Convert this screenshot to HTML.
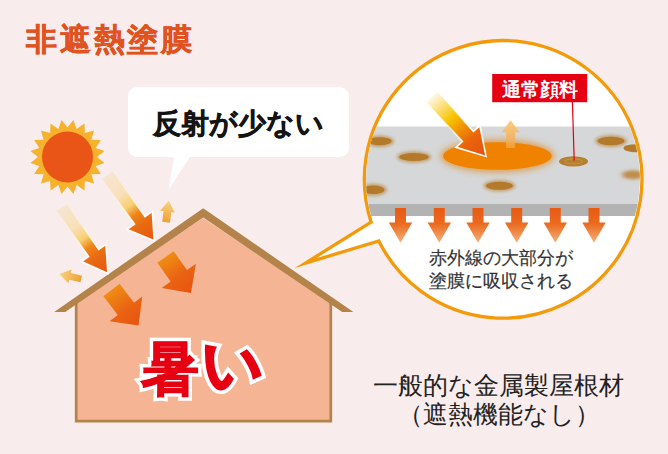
<!DOCTYPE html>
<html><head><meta charset="utf-8">
<style>
html,body{margin:0;padding:0;}
body{width:668px;height:454px;overflow:hidden;background:#f8ecec;position:relative;font-family:"Liberation Sans",sans-serif;}
svg{position:absolute;left:0;top:0;}
.t{position:absolute;white-space:nowrap;line-height:1;}
#title{left:26px;top:24px;font-size:31px;font-weight:bold;color:#e0521f;letter-spacing:2.8px;-webkit-text-stroke:0.5px #e0521f;}
#bub{left:152.5px;top:109.5px;font-size:28px;font-weight:bold;color:#141414;-webkit-text-stroke:0.5px #141414;}
#hot1,#hot2{left:141px;top:339px;font-size:58px;font-weight:bold;letter-spacing:5px;}
#hot1{color:#fff;-webkit-text-stroke:8px #fff;}
#hot2{color:#e60012;-webkit-text-stroke:1.2px #e60012;}
.ii{position:relative;top:-4px;left:-2px;font-size:60px;}
#hot2 .ii{-webkit-text-stroke:2.6px #e60012;}
#hot1 .ii{-webkit-text-stroke:10px #fff;}
#lab{left:502px;top:80.5px;font-size:18.5px;font-weight:bold;color:#fff;}
#ir{left:429px;top:246.5px;font-size:17.5px;color:#333;line-height:23px;-webkit-text-stroke:0.2px #333;}
#bot{left:373px;top:371px;font-size:25px;color:#222;line-height:28.5px;text-align:center;}
</style></head><body>
<svg width="668" height="454" viewBox="0 0 668 454">
<defs>
  <linearGradient id="gBig" x1="0" y1="0" x2="1" y2="0">
    <stop offset="0" stop-color="#f7e5d0"/>
    <stop offset="0.3" stop-color="#f8e0b8"/>
    <stop offset="0.47" stop-color="#f8d070"/>
    <stop offset="0.6" stop-color="#f08418"/>
    <stop offset="0.75" stop-color="#e96a12"/>
    <stop offset="1" stop-color="#e85510"/>
  </linearGradient>
  <linearGradient id="gIn" x1="0" y1="0" x2="1" y2="0">
    <stop offset="0" stop-color="#f08c14"/>
    <stop offset="0.55" stop-color="#ea6212"/>
    <stop offset="1" stop-color="#e85410"/>
  </linearGradient>
  <linearGradient id="gSmall" x1="0" y1="0" x2="1" y2="0">
    <stop offset="0" stop-color="#f0a030"/>
    <stop offset="1" stop-color="#f8d385"/>
  </linearGradient>
  <linearGradient id="gMag" x1="0" y1="0" x2="1" y2="0">
    <stop offset="0" stop-color="#fff8e8"/>
    <stop offset="0.36" stop-color="#f8c400"/>
    <stop offset="0.55" stop-color="#f08e00"/>
    <stop offset="0.72" stop-color="#ea640c"/>
    <stop offset="1" stop-color="#e65010"/>
  </linearGradient>
  <linearGradient id="gUp" x1="0" y1="0" x2="1" y2="0">
    <stop offset="0" stop-color="#f3a448" stop-opacity="0.8"/>
    <stop offset="1" stop-color="#f9cb80"/>
  </linearGradient>
  <linearGradient id="gDown" x1="0" y1="0" x2="0" y2="1">
    <stop offset="0" stop-color="#e85a12"/>
    <stop offset="0.45" stop-color="#ea6a1e"/>
    <stop offset="1" stop-color="#f6b07a"/>
  </linearGradient>
  <linearGradient id="gWh" x1="0" y1="0" x2="1" y2="0">
    <stop offset="0" stop-color="#fff" stop-opacity="0"/>
    <stop offset="0.35" stop-color="#fff" stop-opacity="0.3"/>
    <stop offset="0.65" stop-color="#fff" stop-opacity="1"/>
    <stop offset="1" stop-color="#fff" stop-opacity="1"/>
  </linearGradient>
  <clipPath id="cc"><circle cx="503" cy="179" r="137"/></clipPath>
  <filter id="bl" x="-50%" y="-100%" width="200%" height="300%"><feGaussianBlur stdDeviation="0.6"/></filter>
  <filter id="bl3" x="-50%" y="-100%" width="200%" height="300%"><feGaussianBlur stdDeviation="2.5 1.8"/></filter>
  <filter id="bl2" x="-50%" y="-100%" width="200%" height="300%"><feGaussianBlur stdDeviation="1.8"/></filter>
  <filter id="glow" x="-30%" y="-100%" width="160%" height="300%"><feGaussianBlur stdDeviation="3.2"/></filter>
</defs>

<!-- speech bubble -->
<rect x="128" y="87" width="221" height="70" rx="9" fill="#fff"/>
<polygon points="175.2,150 194.6,150 168.5,190" fill="#fff"/>

<!-- sun -->
<g transform="translate(67.5,157)">
  <polygon fill="#f6b12d" points="5.9,-37.0 9.1,-28.1 17.0,-33.4 17.3,-23.9 26.5,-26.5 23.9,-17.3 33.4,-17.0 28.1,-9.1 37.0,-5.9 29.5,0.0 37.0,5.9 28.1,9.1 33.4,17.0 23.9,17.3 26.5,26.5 17.3,23.9 17.0,33.4 9.1,28.1 5.9,37.0 0.0,29.5 -5.9,37.0 -9.1,28.1 -17.0,33.4 -17.3,23.9 -26.5,26.5 -23.9,17.3 -33.4,17.0 -28.1,9.1 -37.0,5.9 -29.5,0.0 -37.0,-5.9 -28.1,-9.1 -33.4,-17.0 -23.9,-17.3 -26.5,-26.5 -17.3,-23.9 -17.0,-33.4 -9.1,-28.1 -5.9,-37.0 -0.0,-29.5"/>
  <circle r="25.5" fill="#e85516"/>
</g>

<!-- house -->
<polygon points="76,303 203,218 331,303 331,421 76,421" fill="#f5b594"/>
<path d="M76.2,300 V421.2 H330.8 V300" fill="none" stroke="#b3834a" stroke-width="2.7"/>
<polygon points="54.2,312 203.2,208.3 353.4,312 342.2,312 203.2,217.6 65.2,312" fill="#b3834a"/>

<!-- arrows outside -->
<g transform="translate(107.5,175.2) rotate(54.5)"><linearGradient id="gBig_107" gradientUnits="userSpaceOnUse" x1="0" y1="0" x2="80.5" y2="0" href="#gBig"/><linearGradient id="w_gBig_107" gradientUnits="userSpaceOnUse" x1="0" y1="0" x2="80.5" y2="0" href="#gWh"/><polygon points="0.0,-6.5 55.5,-6.5 55.5,-15.5 80.5,0.0 55.5,15.5 55.5,6.5 0.0,6.5" fill="url(#gBig_107)"  stroke="url(#w_gBig_107)" stroke-width="1.6" stroke-linejoin="miter"/></g>
<g transform="translate(61.8,207.5) rotate(55.0)"><linearGradient id="gBig_61" gradientUnits="userSpaceOnUse" x1="0" y1="0" x2="80.5" y2="0" href="#gBig"/><linearGradient id="w_gBig_61" gradientUnits="userSpaceOnUse" x1="0" y1="0" x2="80.5" y2="0" href="#gWh"/><polygon points="0.0,-6.2 55.5,-6.2 55.5,-15.0 80.5,0.0 55.5,15.0 55.5,6.2 0.0,6.2" fill="url(#gBig_61)"  stroke="url(#w_gBig_61)" stroke-width="1.6" stroke-linejoin="miter"/></g>
<g transform="translate(165.5,257.0) rotate(54.7)"><linearGradient id="gIn_165" gradientUnits="userSpaceOnUse" x1="0" y1="0" x2="44" y2="0" href="#gIn"/><polygon points="0.0,-10.0 23.0,-10.0 23.0,-21.0 44.0,0.0 23.0,21.0 23.0,10.0 0.0,10.0" fill="url(#gIn_165)" /></g>
<g transform="translate(111.5,290.0) rotate(52.7)"><linearGradient id="gIn_111" gradientUnits="userSpaceOnUse" x1="0" y1="0" x2="44.7" y2="0" href="#gIn"/><polygon points="0.0,-10.2 23.7,-10.2 23.7,-20.5 44.7,0.0 23.7,20.5 23.7,10.2 0.0,10.2" fill="url(#gIn_111)" /></g>
<g transform="translate(166.1,222.3) rotate(-83.0)"><linearGradient id="gSmall_166" gradientUnits="userSpaceOnUse" x1="0" y1="0" x2="21.8" y2="0" href="#gSmall"/><polygon points="0.0,-3.9 10.8,-3.9 10.8,-7.4 21.8,0.0 10.8,7.4 10.8,3.9 0.0,3.9" fill="url(#gSmall_166)" /></g>
<g transform="translate(81.2,279.0) rotate(193.0)"><linearGradient id="gSmall_81" gradientUnits="userSpaceOnUse" x1="0" y1="0" x2="22.5" y2="0" href="#gSmall"/><polygon points="0.0,-3.4 11.5,-3.4 11.5,-7.0 22.5,0.0 11.5,7.0 11.5,3.4 0.0,3.4" fill="url(#gSmall_81)" /></g>

<!-- magnifier -->
<path d="M371.1,222.1 L305.6,263.0 L378.8,241.0 A138.8 138.8 0 1 0 371.1,222.1 Z" fill="#fff" stroke="#f29a0a" stroke-width="3.3" stroke-linejoin="miter" stroke-miterlimit="20"/>
<g clip-path="url(#cc)">
  <rect x="350" y="126.5" width="320" height="77.5" fill="#d6d7d8"/>
  <rect x="350" y="204" width="320" height="12" fill="#b3b3b3"/>
  <g fill="#b98236" opacity="0.6" filter="url(#bl2)">
    <ellipse cx="379.6" cy="141.2" rx="14.5" ry="6"/>
    <ellipse cx="414" cy="157" rx="17.3" ry="6"/>
    <ellipse cx="373.5" cy="189.8" rx="13.5" ry="6.3"/>
    <ellipse cx="499.4" cy="185.8" rx="16.0" ry="6"/>
    <ellipse cx="611" cy="141" rx="16.0" ry="6.2"/>
  </g>
  <g fill="#b27a2c" filter="url(#bl)">
    <ellipse cx="379.6" cy="141.2" rx="12" ry="4"/>
    <ellipse cx="414" cy="157" rx="14.8" ry="4"/>
    <ellipse cx="373.5" cy="189.8" rx="11" ry="4.3"/>
    <ellipse cx="499.4" cy="185.8" rx="13.5" ry="4"/>
    <ellipse cx="611" cy="141" rx="13.5" ry="4.2"/>
  </g>
  <ellipse cx="636" cy="148.2" rx="12.5" ry="4" fill="#b27a2c" filter="url(#bl)"/>
  <ellipse cx="633" cy="174.8" rx="11" ry="4.5" fill="#b98236" opacity="0.85" filter="url(#bl3)"/>
  <ellipse cx="573.5" cy="161.4" rx="14.5" ry="5.2" fill="#b5802e"/>
  <ellipse cx="573.5" cy="161.4" rx="9" ry="2.5" fill="none" stroke="#c8985a" stroke-width="0.8"/>
  <ellipse cx="497.4" cy="156" rx="57" ry="16.5" fill="#e08a20" opacity="0.7" filter="url(#glow)"/>
  <ellipse cx="497.4" cy="156" rx="54.3" ry="13.8" fill="#ef8300"/>
  <g transform="translate(431.9,96.9) rotate(47.7)"><linearGradient id="gMag_431" gradientUnits="userSpaceOnUse" x1="0" y1="0" x2="80.5" y2="0" href="#gMag"/><linearGradient id="w_gMag_431" gradientUnits="userSpaceOnUse" x1="0" y1="0" x2="80.5" y2="0" href="#gWh"/><polygon points="0.0,-7.5 53.5,-7.5 53.5,-16.1 80.5,0.0 53.5,16.1 53.5,7.5 0.0,7.5" fill="url(#gMag_431)"  stroke="url(#w_gMag_431)" stroke-width="1.6" stroke-linejoin="miter"/></g>
<g transform="translate(510.6,148.0) rotate(-90.0)"><linearGradient id="gUp_510" gradientUnits="userSpaceOnUse" x1="0" y1="0" x2="27.7" y2="0" href="#gUp"/><polygon points="0.0,-4.5 15.7,-4.5 15.7,-9.1 27.7,0.0 15.7,9.1 15.7,4.5 0.0,4.5" fill="url(#gUp_510)" /></g>
  <rect x="492.2" y="74" width="95" height="28.2" fill="#e50012"/>
  <line x1="572.4" y1="102" x2="574.2" y2="160.5" stroke="#e50012" stroke-width="1.2"/>
  <polygon points="395.0,208 406.0,208 406.0,222.6 412.2,222.6 400.5,242.7 388.8,222.6 395.0,222.6" fill="url(#gDown)"/>
<polygon points="433.8,208 444.8,208 444.8,222.6 451.0,222.6 439.3,242.7 427.6,222.6 433.8,222.6" fill="url(#gDown)"/>
<polygon points="472.5,208 483.5,208 483.5,222.6 489.7,222.6 478.0,242.7 466.3,222.6 472.5,222.6" fill="url(#gDown)"/>
<polygon points="511.2,208 522.2,208 522.2,222.6 528.4,222.6 516.7,242.7 505.0,222.6 511.2,222.6" fill="url(#gDown)"/>
<polygon points="549.8,208 560.8,208 560.8,222.6 567.0,222.6 555.3,242.7 543.6,222.6 549.8,222.6" fill="url(#gDown)"/>
<polygon points="588.5,208 599.5,208 599.5,222.6 605.7,222.6 594.0,242.7 582.3,222.6 588.5,222.6" fill="url(#gDown)"/>
</g>
</svg>
<div class="t" id="title">非遮熱塗膜</div>
<div class="t" id="bub">反射が少ない</div>
<div class="t" id="hot1">暑<span class="ii">い</span></div>
<div class="t" id="hot2">暑<span class="ii">い</span></div>
<div class="t" id="lab">通常顔料</div>
<div class="t" id="ir">赤外線の大部分が<br>塗膜に吸収される</div>
<div class="t" id="bot">一般的な金属製屋根材<br>（遮熱機能なし）</div>
</body></html>
